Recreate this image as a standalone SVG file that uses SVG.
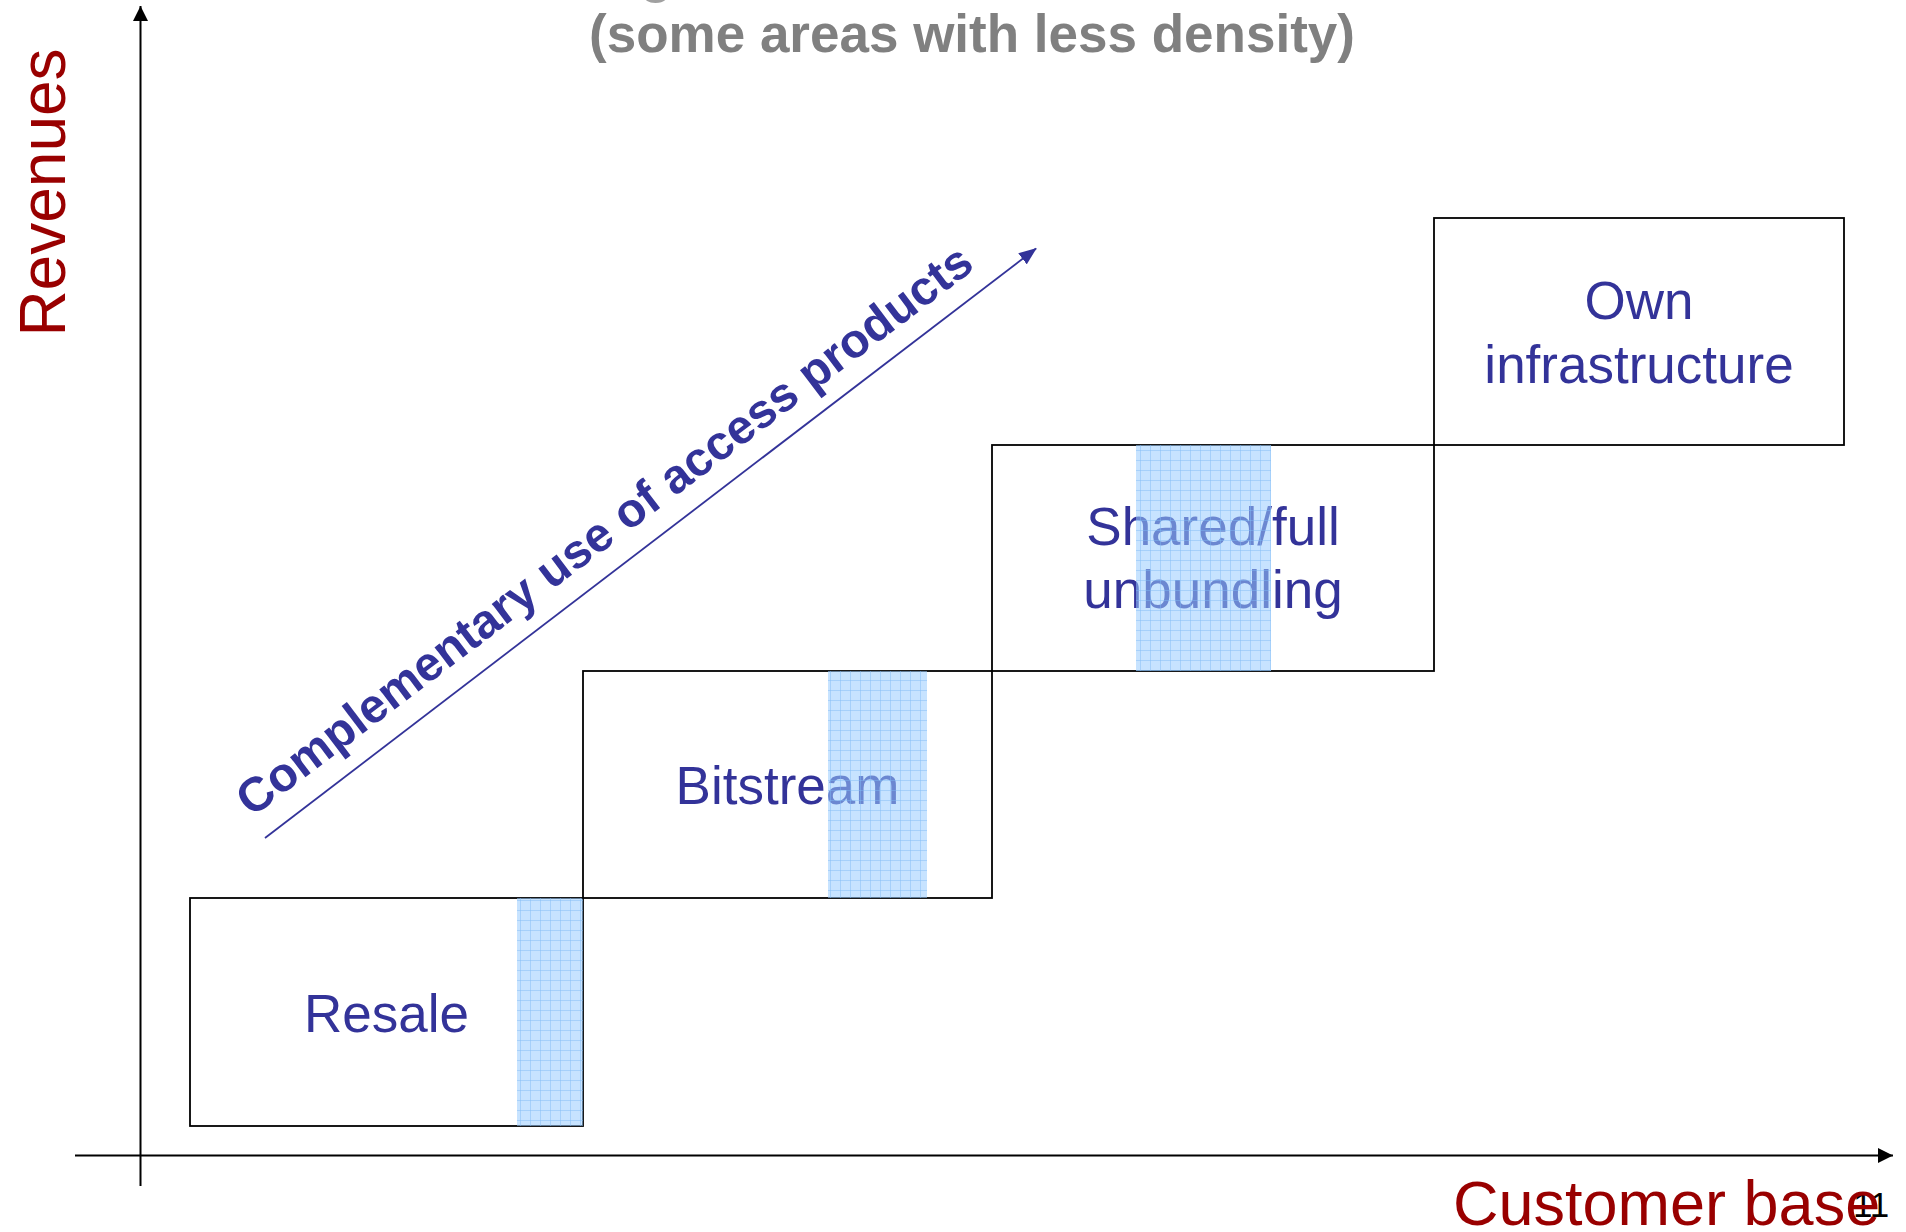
<svg xmlns="http://www.w3.org/2000/svg" width="1906" height="1232" viewBox="0 0 1906 1232">
<style>
.box{fill:none;stroke:#000;stroke-width:1.8}
.lbl{font-family:"Liberation Sans",Arial,sans-serif;font-size:53px;fill:#333399;text-anchor:middle}
.axis{stroke:#000;stroke-width:2;fill:none}
.axt{font-family:"Liberation Sans",Arial,sans-serif;fill:#990000}
.hatch{fill:url(#grid)}
</style>
<defs>
<pattern id="grid" width="10" height="10" patternUnits="userSpaceOnUse">
<rect width="10" height="10" fill="#99ccff" fill-opacity="0.55"/>
<path d="M0 0.5H10M0.5 0V10" stroke="#7fbaf5" stroke-opacity="0.45" stroke-width="1"/>
</pattern>
<marker id="ah" markerWidth="15" markerHeight="15" refX="15" refY="7.5" orient="auto" markerUnits="userSpaceOnUse">
<path d="M0 0L15 7.5L0 15Z" fill="#000"/>
</marker>
<marker id="ahb" markerWidth="18" markerHeight="14" refX="17" refY="7" orient="auto" markerUnits="userSpaceOnUse">
<path d="M0 0L18 7L0 14Z" fill="#333399"/>
</marker>
</defs>
<rect width="1906" height="1232" fill="#fff"/>

<g id="title">
<text x="640" y="-8" font-family="Liberation Sans,Arial,sans-serif" font-weight="bold" font-size="53" fill="#a0a0a0">g</text>
<text x="972" y="52" font-family="Liberation Sans,Arial,sans-serif" font-weight="bold" font-size="53" fill="#808080" text-anchor="middle">(some areas with less density)</text>
</g>

<g id="connectors">
<line class="axis" x1="140.5" y1="1186" x2="140.5" y2="6" marker-end="url(#ah)"/>
<line class="axis" x1="75" y1="1155.5" x2="1893" y2="1155.5" marker-end="url(#ah)"/>
<line x1="265" y1="838" x2="1036" y2="248.5" stroke="#333399" stroke-width="1.8" marker-end="url(#ahb)"/>
</g>

<g id="axis-labels">
<text class="axt" font-size="64" text-anchor="middle" transform="translate(65,192.5) rotate(-90)">Revenues</text>
<text x="1853" y="1217" font-family="Liberation Sans,Arial,sans-serif" font-size="35" fill="#000">11</text>
<text class="axt" x="1453" y="1225" font-size="63">Customer base</text>
</g>

<g id="trend-label">
<text transform="translate(614,543) rotate(-37.2)" font-family="Liberation Sans,Arial,sans-serif" font-weight="bold" font-size="48" fill="#333399" text-anchor="middle">Complementary use of access products</text>
</g>

<g id="resale">
<rect class="box" x="190" y="898" width="393" height="228"/>
<text class="lbl" x="386.5" y="1032">Resale</text>
<rect class="hatch" x="517" y="898" width="66" height="228"/>
</g>

<g id="bitstream">
<rect class="box" x="583" y="671" width="409" height="227"/>
<text class="lbl" x="787.5" y="804">Bitstream</text>
<rect class="hatch" x="828" y="671" width="99" height="227"/>
</g>

<g id="shared-full-unbundling">
<rect class="box" x="992" y="445" width="442" height="226"/>
<text class="lbl" x="1213" y="545">Shared/full</text>
<text class="lbl" x="1213" y="608">unbundling</text>
<rect class="hatch" x="1136" y="445" width="135" height="226"/>
</g>

<g id="own-infrastructure">
<rect class="box" x="1434" y="218" width="410" height="227"/>
<text class="lbl" x="1639" y="319">Own</text>
<text class="lbl" x="1639" y="383">infrastructure</text>
</g>
</svg>
